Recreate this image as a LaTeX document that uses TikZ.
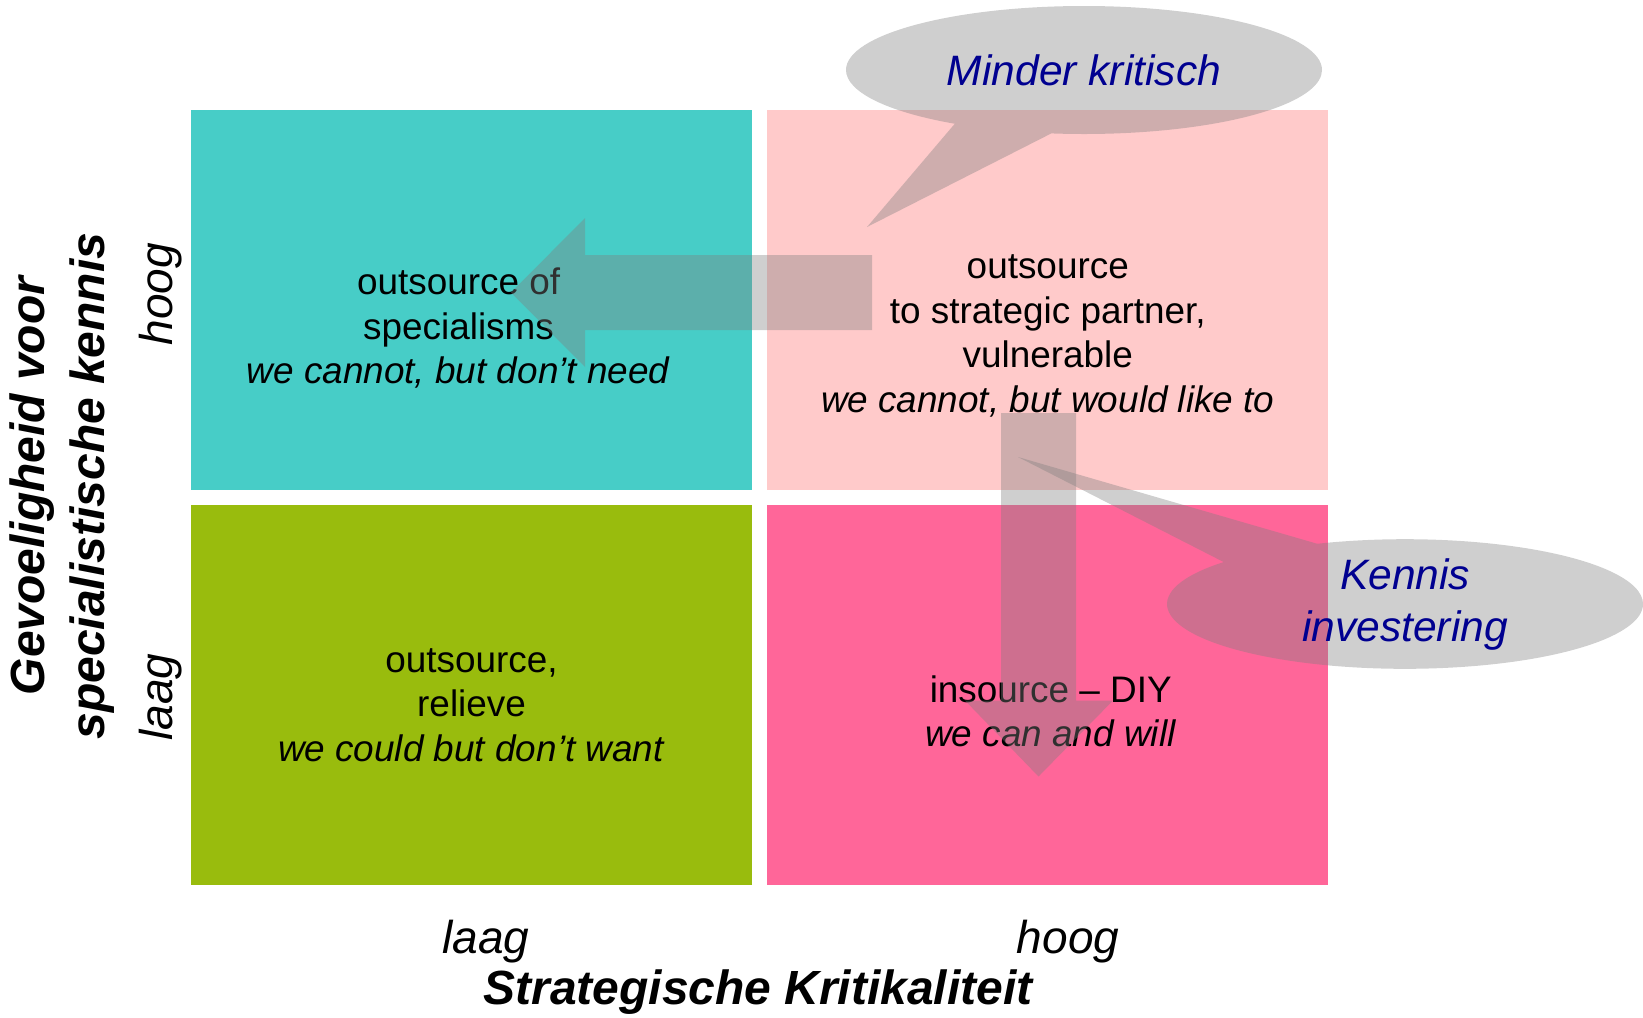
\documentclass[tikz,border=0pt]{standalone}
\usepackage{fontspec}
\setmainfont{Liberation Sans}
\usepackage{tikz}
\usetikzlibrary{positioning,shapes.callouts}
\definecolor{quadcyan}{HTML}{47CDC7}
\definecolor{quadrose}{HTML}{FFCACA}
\definecolor{quadlime}{HTML}{99BC0D}
\definecolor{quadpink}{HTML}{FF6699}
\definecolor{shade}{HTML}{808080}
\definecolor{navy}{HTML}{000090}
\tikzset{
  quad/.style={inner sep=0pt,minimum width=11.22cm,minimum height=7.6cm},
  quadtext/.style={align=center,font=\fontsize{21}{25.3}\selectfont},
  axistitle/.style={align=center,font=\fontsize{27.3}{34.1}\selectfont\bfseries\itshape},
  axislabel/.style={font=\fontsize{26.2}{31}\selectfont\itshape},
  blockarrow/.style={fill=shade,fill opacity=0.38},
  bubble/.style={ellipse callout,fill=shade,fill opacity=0.38,text opacity=1,text=navy,inner sep=0pt,
    minimum width=9.52cm,minimum height=2.56cm,callout pointer arc=25,align=center,
    font=\fontsize{24.2}{29.6}\selectfont\itshape}
}

\begin{document}
\begin{tikzpicture}
\useasboundingbox (0,0) rectangle (32.86,-20.34);
% quadrants
\node[quad,fill=quadcyan,anchor=north west](spec) at (3.814,-2.2){};
\node[quad,fill=quadrose,right=0.29cm of spec](partner){};
\node[quad,fill=quadlime,below=0.28cm of spec](relieve){};
\node[quad,fill=quadpink,below=0.28cm of partner](diy){};
\node[quadtext](spectxt) at ([shift={(-0.26,-0.56)}]spec.center){outsource of\\specialisms\\\textit{we cannot, but don’t need}};
\node[quadtext](partnertxt) at ([shift={(0.0,-0.71)}]partner.center){outsource\\to strategic partner,\\vulnerable\\\textit{we cannot, but would like to}};
\node[quadtext](relievetxt) at ([shift={(0,-0.2)}]relieve.center){outsource,\\relieve\\\textit{we could but don’t want}};
\node[quadtext](diytxt) at ([shift={(0.06,-0.33)}]diy.center){insource -- DIY\\\textit{we can and will}};
% axes
\node[axislabel,anchor=base](xlow) at (9.72,-19.06){laag};
\node[axislabel,anchor=base](xhigh) at (21.36,-19.06){hoog};
\node[axistitle,anchor=base](xtitle) at (15.16,-20.08){Strategische Kritikaliteit};
\node[axislabel,rotate=90](yhigh) at (3.21,-5.88){hoog};
\node[axislabel,rotate=90](ylow) at (3.21,-13.94){laag};
\node[axistitle,rotate=90](ytitle) at (1.24,-9.72){Gevoeligheid voor\\specialistische kennis};
% block arrows
\fill[blockarrow] (17.44,-5.10) -- (11.70,-5.10) -- (11.70,-4.36) -- (10.22,-5.85) -- (11.70,-7.34) -- (11.70,-6.60) -- (17.44,-6.60) -- cycle;
\fill[blockarrow] (20.02,-8.26) -- (20.02,-14.01) -- (19.30,-14.01) -- (20.77,-15.53) -- (22.26,-14.01) -- (21.52,-14.01) -- (21.52,-8.26) -- cycle;
% callouts
\coordinate (minderpt) at (17.34,-4.54);
\coordinate (kennispt) at (20.36,-9.14);
\node[bubble,callout absolute pointer={(minderpt)}](minder) at (21.68,-1.4){Minder kritisch};
\node[bubble,callout pointer arc=28,callout absolute pointer={(kennispt)}](kennis) at (28.1,-12.08){Kennis\\investering};
\end{tikzpicture}
\end{document}
